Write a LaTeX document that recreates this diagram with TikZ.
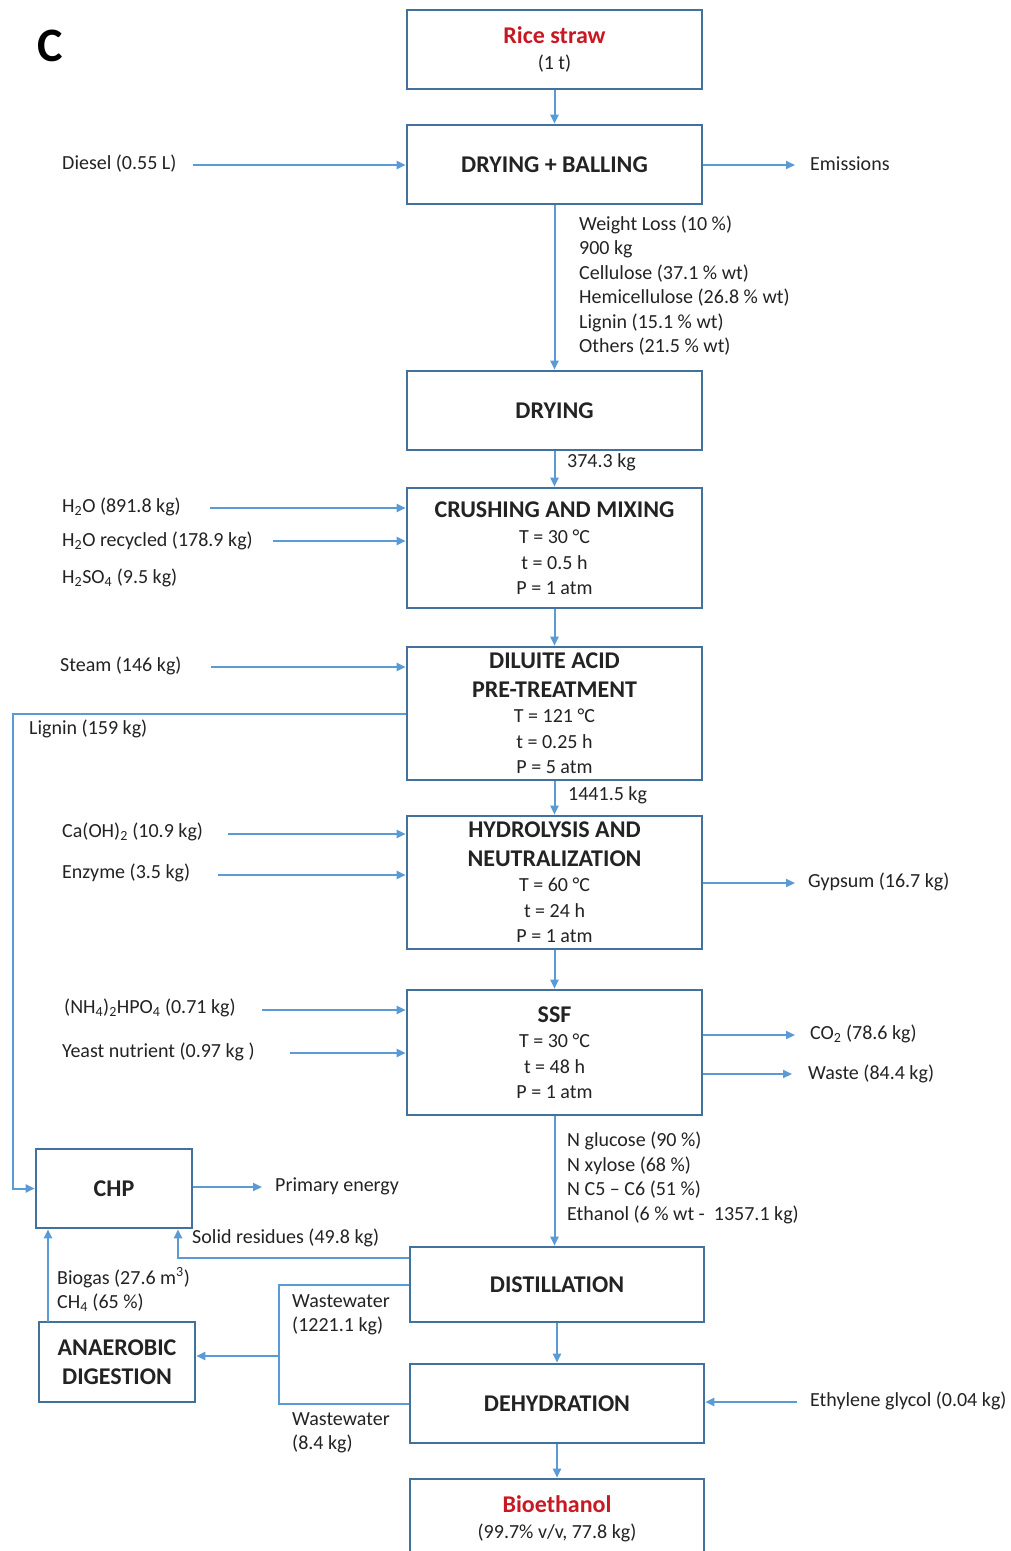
\documentclass[tikz,border=0pt]{standalone}
\usepackage{fontspec}
\setmainfont{Carlito}
\usetikzlibrary{arrows.meta}
\definecolor{boxblue}{RGB}{65,113,156}
\definecolor{arrblue}{RGB}{91,155,213}
\definecolor{redt}{RGB}{200,25,35}
\definecolor{txt}{RGB}{35,35,35}
\newcommand{\ttl}[1]{{\bfseries\fontsize{24}{25.5}\selectfont #1}}
\begin{document}
\begin{tikzpicture}[x=1pt,y=-1pt,
 box/.style={draw=boxblue, line width=2.6pt, inner sep=0pt, align=center, text=txt, font=\fontsize{20}{25.5}\selectfont},
 arr/.style={draw=arrblue, line width=2pt, -{Triangle[length=9pt,width=8pt]}},
 ln/.style={draw=arrblue, line width=2pt},
 lbl/.style={anchor=west, inner sep=0pt, text=txt, font=\fontsize{20}{24.5}\selectfont, align=left}]
\fill[white] (0,0) rectangle (1010,1551);
\useasboundingbox (0,0) rectangle (1010,1551);

\node[font=\bfseries\fontsize{48}{48}\selectfont, inner sep=0pt] (C) at (50,46) {C};

% boxes
\node[box, minimum width=295, minimum height=79] (rice) at (554.5,49.5) {\ttl{\color{redt}Rice straw}\\(1 t)};
\node[box, minimum width=295, minimum height=79] (dryb) at (554.5,164.5) {\ttl{DRYING + BALLING}};
\node[box, minimum width=295, minimum height=79] (dry) at (554.5,410.5) {\ttl{DRYING}};
\node[box, minimum width=295, minimum height=120] (crush) at (554.5,548) {\ttl{CRUSHING AND MIXING}\\[1pt]T = 30 °C\\t = 0.5 h\\P = 1 atm};
\node[box, minimum width=295, minimum height=133] (dil) at (554.5,713.5) {\ttl{DILUITE ACID}\\[3pt]\ttl{PRE-TREATMENT}\\T = 121 °C\\t = 0.25 h\\P = 5 atm};
\node[box, minimum width=295, minimum height=133] (hyd) at (554.5,882.5) {\ttl{HYDROLYSIS AND}\\[3pt]\ttl{NEUTRALIZATION}\\T = 60 °C\\t = 24 h\\P = 1 atm};
\node[box, minimum width=295, minimum height=125] (ssf) at (554.5,1052.5) {\ttl{SSF}\\T = 30 °C\\t = 48 h\\P = 1 atm};
\node[box, minimum width=156, minimum height=79] (chp) at (114,1188.5) {\ttl{CHP}};
\node[box, minimum width=294, minimum height=75] (dist) at (557,1284.5) {\ttl{DISTILLATION}};
\node[box, minimum width=294, minimum height=79] (dehy) at (557,1403.5) {\ttl{DEHYDRATION}};
\node[box, minimum width=294, minimum height=80] (bio) at (557,1519) {\ttl{\color{redt}Bioethanol}\\(99.7\% v/v, 77.8 kg)};
\node[box, minimum width=156, minimum height=80] (ad) at (117,1362) {\ttl{ANAEROBIC}\\[3pt]\ttl{DIGESTION}};

% labels
\node[lbl] (diesel) at (62,164) {Diesel (0.55 L)};
\node[lbl] (emis) at (810,164) {Emissions};
\node[lbl] (wl) at (579,285.5) {Weight Loss (10 \%)\\900 kg\\Cellulose (37.1 \% wt)\\Hemicellulose (26.8 \% wt)\\Lignin (15.1 \% wt)\\Others (21.5 \% wt)};
\node[lbl] (m374) at (567,462) {374.3 kg};
\node[lbl] (h2o) at (62,507) {H\textsubscript{2}O (891.8 kg)};
\node[lbl] (h2orec) at (62,541) {H\textsubscript{2}O recycled (178.9 kg)};
\node[lbl] (h2so4) at (62,578) {H\textsubscript{2}SO\textsubscript{4} (9.5 kg)};
\node[lbl] (steam) at (60,666) {Steam (146 kg)};
\node[lbl] (lignin) at (29,729) {Lignin (159 kg)};
\node[lbl] (m1441) at (568,795) {1441.5 kg};
\node[lbl] (caoh) at (62,832) {Ca(OH)\textsubscript{2} (10.9 kg)};
\node[lbl] (enz) at (62,873) {Enzyme (3.5 kg)};
\node[lbl] (gyps) at (808,882) {Gypsum (16.7 kg)};
\node[lbl] (nh4) at (64,1008) {(NH\textsubscript{4})\textsubscript{2}HPO\textsubscript{4} (0.71 kg)};
\node[lbl] (yeast) at (62,1052) {Yeast nutrient (0.97 kg )};
\node[lbl] (co2) at (810,1034) {CO\textsubscript{2} (78.6 kg)};
\node[lbl] (waste) at (808,1074) {Waste (84.4 kg)};
\node[lbl] (sug) at (567,1178) {N glucose (90 \%)\\N xylose (68 \%)\\N C5 – C6 (51 \%)\\Ethanol (6 \% wt -\ \ 1357.1 kg)};
\node[lbl] (prim) at (275,1186) {Primary energy};
\node[lbl] (solid) at (192,1238) {Solid residues (49.8 kg)};
\node[lbl] (biogas) at (57,1289.5) {Biogas (27.6 m\textsuperscript{3})\\CH\textsubscript{4} (65 \%)};
\node[lbl] (ww1) at (292,1315) {Wastewater\\(1221.1 kg)};
\node[lbl] (ww2) at (292,1433) {Wastewater\\(8.4 kg)};
\node[lbl] (eth) at (810,1401) {Ethylene glycol (0.04 kg)};

% coordinates for free ends
\coordinate (dA) at (193,165);
\coordinate (emA) at (795,165);
\coordinate (hA) at (210,508);
\coordinate (hrA) at (273,541);
\coordinate (stA) at (211,667);
\coordinate (lg) at (13,713.5);
\coordinate (caA) at (228,834);
\coordinate (enA) at (218,875);
\coordinate (gyA) at (795,883);
\coordinate (nhA) at (262,1010);
\coordinate (yeA) at (290,1053);
\coordinate (coA) at (795,1035);
\coordinate (waA) at (792,1074);
\coordinate (peA) at (262,1187);
\coordinate (sr) at (178,1258);
\coordinate (ww) at (279,1356);
\coordinate (bg) at (48,1322);
\coordinate (egA) at (797,1402);

% connectors
\draw[arr] (rice) -- (dryb);
\draw[arr] (dA) -- (dA -| dryb.west);
\draw[arr] (dA -| dryb.east) -- (emA);
\draw[arr] (dryb) -- (dry);
\draw[arr] (dry) -- (crush);
\draw[arr] (hA) -- (hA -| crush.west);
\draw[arr] (hrA) -- (hrA -| crush.west);
\draw[arr] (crush) -- (dil);
\draw[arr] (stA) -- (stA -| dil.west);
\draw[arr] (dil.west) -- (lg) |- (chp.west);
\draw[arr] (dil) -- (hyd);
\draw[arr] (caA) -- (caA -| hyd.west);
\draw[arr] (enA) -- (enA -| hyd.west);
\draw[arr] (gyA -| hyd.east) -- (gyA);
\draw[arr] (hyd) -- (ssf);
\draw[arr] (nhA) -- (nhA -| ssf.west);
\draw[arr] (yeA) -- (yeA -| ssf.west);
\draw[arr] (coA -| ssf.east) -- (coA);
\draw[arr] (waA -| ssf.east) -- (waA);
\draw[arr] (ssf.south) -- (ssf.south |- dist.north);
\draw[arr] (peA -| chp.east) -- (peA);
\draw[arr] (sr -| dist.west) -- (sr) -- (sr |- chp.south);
\draw[ln] (dist.west) -| (ww);
\draw[ln] (dehy.west) -| (ww);
\draw[arr] (ww) -- (ww -| ad.east);
\draw[arr] (bg) -- (bg |- chp.south);
\draw[arr] (dist) -- (dehy);
\draw[arr] (egA) -- (egA -| dehy.east);
\draw[arr] (dehy) -- (bio);
\end{tikzpicture}
\end{document}
